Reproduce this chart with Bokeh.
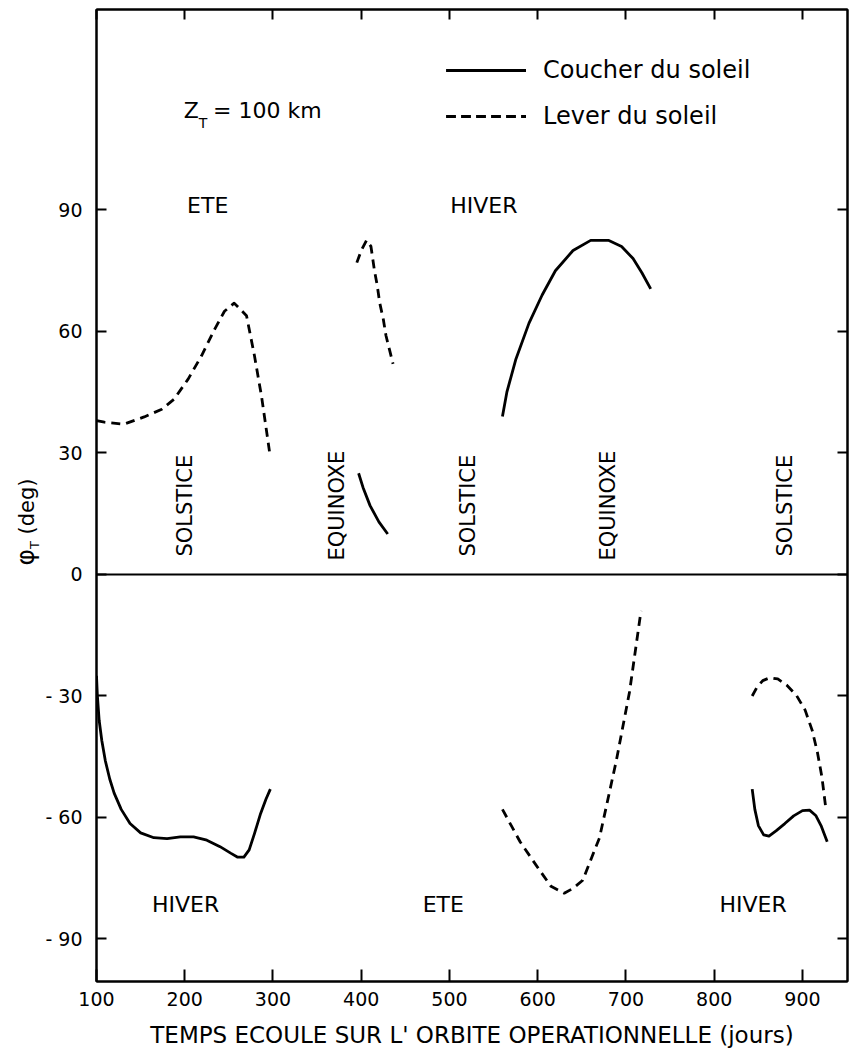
import math
from bokeh.plotting import figure
from bokeh.layouts import row
from bokeh.models import Range1d, LinearAxis, FixedTicker, Legend, LegendItem, Label, Span, Div
from bokeh.embed import file_html
from bokeh.resources import INLINE
from bokeh.core.properties import value

# ---------------- data (days, phi_T in degrees) ----------------
# Coucher du soleil (solid)
coucher_a_x = [100, 101, 103, 106, 110, 115, 120, 128, 138, 150, 165, 180, 195, 210, 225, 240, 252, 260, 267, 273, 279, 286, 292, 297]
coucher_a_y = [-25, -30, -36, -41, -46, -50.5, -54, -58, -61.5, -63.8, -65, -65.2, -64.8, -64.8, -65.6, -67.2, -68.8, -69.8, -69.8, -68, -64, -59, -55.5, -53]
coucher_b_x = [397, 402, 410, 420, 430]
coucher_b_y = [25, 21.5, 17, 13, 10]
coucher_c_x = [560, 565, 575, 590, 605, 620, 640, 660, 680, 695, 708, 718, 728]
coucher_c_y = [39, 45, 53, 62, 69, 75, 80, 82.5, 82.5, 81, 78, 74.5, 70.5]
coucher_d_x = [843, 846, 850, 856, 862, 870, 880, 890, 900, 908, 915, 921, 928]
coucher_d_y = [-53, -58, -62, -64.3, -64.6, -63.3, -61.5, -59.6, -58.3, -58.2, -59.5, -62, -66]

# Lever du soleil (dashed)
lever_a_x = [100, 109, 131, 154, 174, 188, 204, 219, 234, 245, 256, 270, 279, 287, 296]
lever_a_y = [38, 37.6, 37.1, 38.9, 40.8, 43.3, 48.3, 54, 60.6, 65, 67, 63.9, 54, 44, 30.4]
lever_b_x = [395, 400, 406, 411, 415, 418, 421, 425, 428, 432, 436]
lever_b_y = [77, 80, 82.5, 81, 75, 71.5, 67, 63, 59, 55.5, 52]
lever_c_x = [560, 580, 602, 615, 630, 640, 651, 670, 689, 704, 717]
lever_c_y = [-58, -66, -73, -77, -78.7, -77.5, -75.5, -65, -46, -29, -9]
lever_d_x = [843, 848, 855, 863, 872, 882, 893, 903, 911, 917, 922, 926]
lever_d_y = [-30, -28, -26.2, -25.5, -25.8, -27.3, -29.8, -33.5, -38.5, -44, -50, -57]

x_ticks = [100, 200, 300, 400, 500, 600, 700, 800, 900]
y_ticks = [-90, -60, -30, 0, 30, 60, 90]
y_tick_labels = {-90: "- 90", -60: "- 60", -30: "- 30", 0: "0", 30: "30", 60: "60", 90: "90"}

season_text = ["ETE", "HIVER", "HIVER", "ETE", "HIVER"]
season_x = [226, 539, 201, 493, 844]
season_y = [91, 91, -81.5, -81.5, -81.5]

event_text = ["SOLSTICE", "EQUINOXE", "SOLSTICE", "EQUINOXE", "SOLSTICE"]
event_x = [200, 372, 521, 680, 880]
event_y = [17, 17, 17, 17, 17]

FONT = "DejaVu Sans"
DIV_W = 42

p = figure(width=849 - DIV_W, height=1058, output_backend="svg", toolbar_location=None,
           x_range=Range1d(100, 951), y_range=Range1d(-100.5, 139.5),
           min_border_left=94 - DIV_W, min_border_right=2, min_border_top=9, min_border_bottom=77,
           background_fill_color="white", border_fill_color="white", margin=0)
p.xgrid.visible = False
p.ygrid.visible = False
p.outline_line_color = "black"
p.outline_line_width = 2

def style_axis(ax, ticks, tin, show_labels=True):
    ax.ticker = FixedTicker(ticks=ticks)
    ax.major_tick_in = tin
    ax.major_tick_out = 0
    ax.minor_tick_line_color = None
    ax.major_tick_line_width = 2
    ax.axis_line_width = 2
    ax.axis_line_color = "black"
    ax.major_tick_line_color = "black"
    ax.major_label_text_font = FONT
    ax.major_label_text_color = "black"
    if not show_labels:
        ax.major_label_text_font_size = "0px"
        ax.major_label_text_color = None
        ax.major_label_standoff = 0

xa = p.xaxis[0]
style_axis(xa, x_ticks, 12)
xa.major_label_text_font_size = "19px"
xa.major_label_standoff = 10
xa.axis_label = "TEMPS ECOULE SUR L' ORBITE OPERATIONNELLE (jours)"
xa.axis_label_text_font = FONT
xa.axis_label_text_font_size = "23px"
xa.axis_label_text_font_style = "normal"
xa.axis_label_text_color = "black"
xa.axis_label_standoff = 13

ya = p.yaxis[0]
style_axis(ya, y_ticks, 10)
ya.major_label_overrides = y_tick_labels
ya.major_label_text_font_size = "19px"
ya.major_label_standoff = 14

top = LinearAxis()
style_axis(top, x_ticks, 10, show_labels=False)
p.add_layout(top, "above")
right = LinearAxis()
style_axis(right, y_ticks, 10, show_labels=False)
p.add_layout(right, "right")

p.add_layout(Span(location=0, dimension="width", line_color="black", line_width=2))

LW = 2.8
DASH = "9 6"
rc = []
for xs, ys in [(coucher_a_x, coucher_a_y), (coucher_b_x, coucher_b_y), (coucher_c_x, coucher_c_y), (coucher_d_x, coucher_d_y)]:
    rc.append(p.line(xs, ys, line_color="black", line_width=LW, line_join="round"))
rl = []
for xs, ys in [(lever_a_x, lever_a_y), (lever_b_x, lever_b_y), (lever_c_x, lever_c_y), (lever_d_x, lever_d_y)]:
    rl.append(p.line(xs, ys, line_color="black", line_width=LW, line_dash=DASH, line_join="round"))

legend = Legend(items=[LegendItem(label="Coucher du soleil", renderers=rc),
                       LegendItem(label="Lever du soleil", renderers=rl)],
                location=(350, 851), glyph_width=80, glyph_height=22, label_height=22,
                label_standoff=17, spacing=18, padding=0, margin=0,
                border_line_color=None, background_fill_alpha=0,
                label_text_font=FONT, label_text_font_size="24px", label_text_color="black")
p.add_layout(legend)

p.text(season_x, season_y, text=season_text, text_font=value(FONT), text_font_size="22px",
       text_align="center", text_baseline="middle", text_color="black")
p.text(event_x, event_y, text=event_text, text_font=value(FONT), text_font_size="21px",
       text_align="center", text_baseline="middle", text_color="black", angle=math.pi / 2)

# Z_T = 100 km
p.add_layout(Label(x=199, y=114.5, text="Z", text_font=FONT, text_font_size="22px", text_color="black",
                   text_align="left", text_baseline="middle"))
p.add_layout(Label(x=216, y=111.5, text="T", text_font=FONT, text_font_size="14px", text_color="black",
                   text_align="left", text_baseline="middle"))
p.add_layout(Label(x=232, y=114.5, text="= 100 km", text_font=FONT, text_font_size="22px", text_color="black",
                   text_align="left", text_baseline="middle"))

# y axis title: phi_T (deg), drawn as rotated HTML text left of the plot
ylab = Div(width=DIV_W, height=1058, margin=0, text=(
    '<div style="position:relative;width:%dpx;height:1058px;">'
    '<div style="position:absolute;left:27px;top:522px;transform:translate(-50%%,-50%%) rotate(-90deg);'
    'white-space:nowrap;font-family:\'DejaVu Sans\';font-size:21px;color:black;line-height:1;">'
    '<span style="font-size:25px;">\u03c6</span><sub style="font-size:13px;">T</sub>&nbsp;(deg)</div></div>'
) % DIV_W)

layout = row(ylab, p)
open("out.html", "w").write(file_html(layout, INLINE))
